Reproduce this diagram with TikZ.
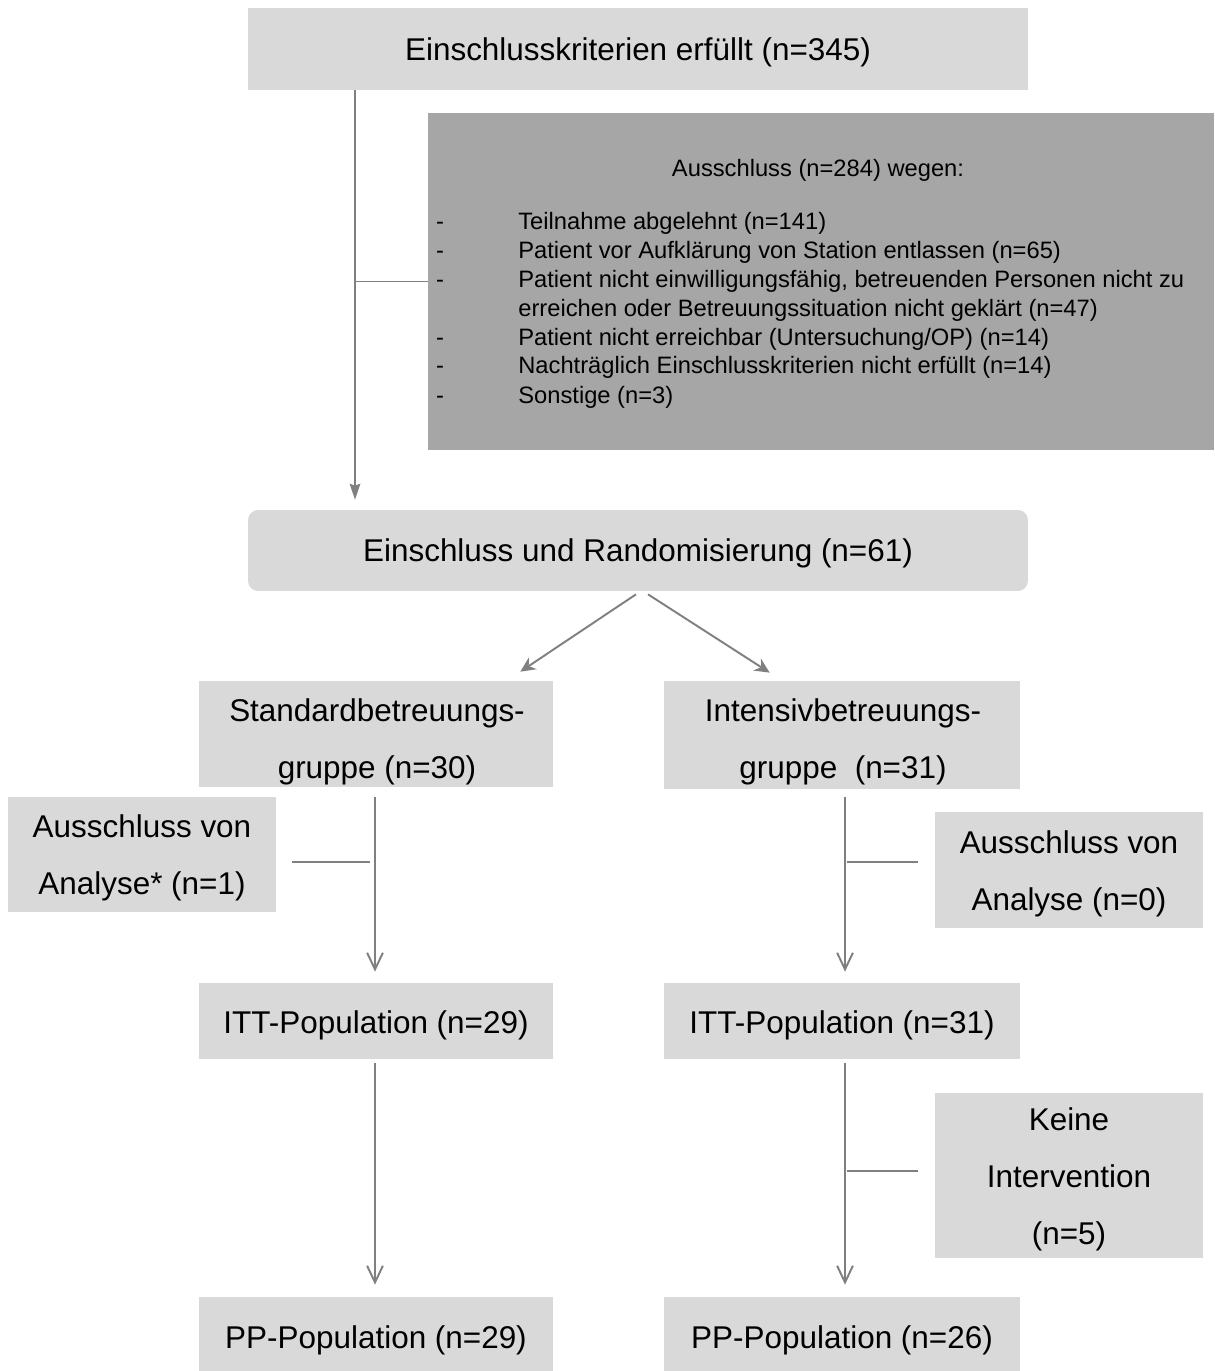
\documentclass[tikz,border=0pt]{standalone}
\usepackage{fontspec}
\setmainfont{Liberation Sans}
\usetikzlibrary{arrows.meta,calc}
\definecolor{boxlight}{HTML}{D9D9D9}
\definecolor{boxdark}{HTML}{A6A6A6}
\definecolor{linegray}{HTML}{808080}
\begin{document}
\begin{tikzpicture}[x=0.02cm,y=-0.02cm,
  box/.style={fill=boxlight, draw=none, inner sep=0pt},
  darkbox/.style={fill=boxdark, draw=none, inner sep=0pt},
  big/.style={font=\fontsize{17.9pt}{32.4pt}\selectfont, align=center, inner sep=0pt},
  small/.style={font=\fontsize{13.5pt}{16pt}\selectfont, inner sep=0pt},
  item/.style={small, anchor=base west},
  dashitem/.style={small, anchor=base},
  conn/.style={draw=linegray, line width=1.1pt},
  varrow/.style={conn, -{Straight Barb[length=9.5pt,width=9pt,line width=1.1pt]}},
  darrow/.style={conn, -{Stealth[length=8.5pt,width=8pt]}},
  toparrow/.style={conn, -{Stealth[length=9pt,width=6pt,inset=1pt]}},
]
\useasboundingbox (0,0) rectangle (1214,1371);

% boxes
\node[box, minimum width=15.6cm, minimum height=1.64cm] (top) at (638,49) {};
\node[darkbox, minimum width=15.72cm, minimum height=6.74cm] (excl) at (821,281.5) {};
\node[box, rounded corners=0.2cm, minimum width=15.6cm, minimum height=1.62cm] (rand) at (638,550.5) {};
\node[box, minimum width=7.08cm, minimum height=2.12cm] (std) at (376,734) {};
\node[box, minimum width=7.12cm, minimum height=2.16cm] (int) at (842,735) {};
\node[box, minimum width=5.36cm, minimum height=2.3cm] (ex1) at (142,854.5) {};
\node[box, minimum width=5.36cm, minimum height=2.32cm] (ex2) at (1069,870) {};
\node[box, minimum width=7.08cm, minimum height=1.52cm] (ittL) at (376,1021) {};
\node[box, minimum width=7.12cm, minimum height=1.52cm] (ittR) at (842,1021) {};
\node[box, minimum width=5.36cm, minimum height=3.3cm] (keine) at (1069,1175.5) {};
\node[box, minimum width=7.08cm, minimum height=1.48cm] (ppL) at (376,1334) {};
\node[box, minimum width=7.12cm, minimum height=1.48cm] (ppR) at (842,1334) {};

% texts
\node[big] (topT) at (638,52) {Einschlusskriterien erfüllt (n=345)};
\node[big] (randT) at (638,553) {Einschluss und Randomisierung (n=61)};
\node[big] (stdT) at (377,741.5) {Standardbetreuungs-\\gruppe (n=30)};
\node[big] (intT) at (843,741.5) {Intensivbetreuungs-\\gruppe~ (n=31)};
\node[big] (ex1T) at (142,858) {Ausschluss von\\Analyse* (n=1)};
\node[big] (ex2T) at (1069,874) {Ausschluss von\\Analyse (n=0)};
\node[big] (ittLT) at (376,1025) {ITT-Population (n=29)};
\node[big] (ittRT) at (842,1025) {ITT-Population (n=31)};
\node[big] (keineT) at (1069,1179) {Keine\\Intervention\\(n=5)};
\node[big] (ppLT) at (376,1340) {PP-Population (n=29)};
\node[big] (ppRT) at (842,1340) {PP-Population (n=26)};

% exclusion list
\node[small] (exclT) at (818,170) {Ausschluss (n=284) wegen:};
\node[dashitem] (d1) at (440,230) {-};
\node[item] (i1) at (518,230) {Teilnahme abgelehnt (n=141)};
\node[dashitem] (d2) at (440,259) {-};
\node[item] (i2) at (518,259) {Patient vor Aufklärung von Station entlassen (n=65)};
\node[dashitem] (d3) at (440,288) {-};
\node[item] (i3) at (518,288) {Patient nicht einwilligungsfähig, betreuenden Personen nicht zu};
\node[item] (i3b) at (518,317) {erreichen oder Betreuungssituation nicht geklärt (n=47)};
\node[dashitem] (d4) at (440,346) {-};
\node[item] (i4) at (518,346) {Patient nicht erreichbar (Untersuchung/OP) (n=14)};
\node[dashitem] (d5) at (440,374) {-};
\node[item] (i5) at (518,374) {Nachträglich Einschlusskriterien nicht erfüllt (n=14)};
\node[dashitem] (d6) at (440,403) {-};
\node[item] (i6) at (518,403) {Sonstige (n=3)};

% connectors
\coordinate (tl) at (355,0);
\draw[toparrow] (top.south -| tl) -- ($(rand.north -| tl)+(0,-10)$);
\draw[conn] (tl |- excl.west) -- (excl.west);

\draw[darrow] ($(rand.south)+(-2,3)$) -- ($(std.north east)+(-33,-9)$);
\draw[darrow] ($(rand.south)+(10,3)$) -- ($(int.north west)+(106,-8)$);

\draw[varrow] ($(std.south)+(-1,10)$) -- ($(ittL.north)+(-1,-11)$);
\draw[conn] ($(ex1.east)+(16,7.5)$) -- ++(78,0);

\draw[varrow] ($(int.south)+(3,8)$) -- ($(ittR.north)+(3,-11)$);
\draw[conn] ($(ex2.west)+(-17,-8)$) -- ++(-71,0);

\draw[varrow] ($(ittL.south)+(-1,4)$) -- ($(ppL.north)+(-1,-12)$);
\draw[varrow] ($(ittR.south)+(3,4)$) -- ($(ppR.north)+(3,-12)$);
\draw[conn] ($(keine.west)+(-17,-4.5)$) -- ++(-71,0);
\end{tikzpicture}
\end{document}
